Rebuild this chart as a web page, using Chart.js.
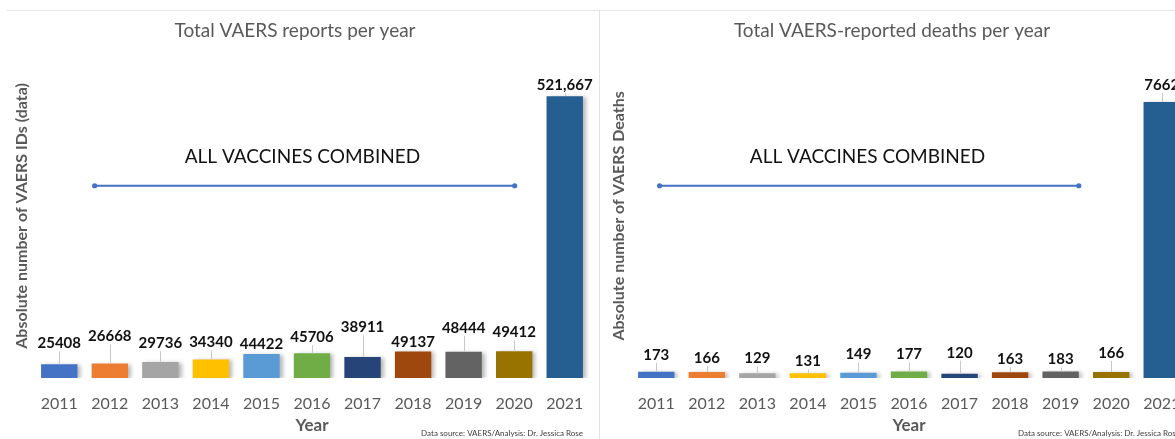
<!DOCTYPE html>
<html lang="en">
<head>
<meta charset="UTF-8" />
<title>VAERS reports and deaths per year</title>
<script src="https://cdn.jsdelivr.net/npm/chart.js"></script>
<style>
  body { margin: 0; background: #fff; overflow: hidden; }
  #wrap { position: relative; width: 1175px; height: 439px; overflow: hidden; }
  .topline { position: absolute; left: 7px; right: 0; top: 10px; height: 1px; background: #e6e6e6; }
  .divider { position: absolute; left: 599px; top: 10px; bottom: 0; width: 1px; background: #e2e2e2; }
  .panel { position: absolute; top: 0; width: 600px; height: 439px; }
</style>
</head>
<body>
<div id="wrap">
  <div class="topline"></div>
  <div class="divider"></div>
  <div class="panel" style="left:0"><canvas id="reportsChart" width="600" height="439"></canvas></div>
  <div class="panel" style="left:597px"><canvas id="deathsChart" width="600" height="439"></canvas></div>
</div>
<script>
// data
const years = ["2011", "2012", "2013", "2014", "2015", "2016", "2017", "2018", "2019", "2020", "2021"];
const reports = [25408, 26668, 29736, 34340, 44422, 45706, 38911, 49137, 48444, 49412, 521667];
const deaths = [173, 166, 129, 131, 149, 177, 120, 163, 183, 166, 7662];

// office default palette, one colour per year
const barColors = ["#4472C4", "#ED7D31", "#A5A5A5", "#FFC000", "#5B9BD5", "#70AD47",
                   "#264478", "#9E480E", "#636363", "#997300", "#255E91"];

const FONT = "Lato, 'Open Sans', sans-serif";
const sourceText = "Data source: VAERS/Analysis: Dr. Jessica Rose";

function fmt(v) {
  return v >= 100000 ? v.toLocaleString("en-US") : String(v);
}

// value labels with leader lines, the "all vaccines" note, the source line and bar shadows
const extras = {
  id: "extras",
  beforeDatasetsDraw(chart) {
    const ctx = chart.ctx;
    ctx.save();
    ctx.shadowColor = "rgba(0,0,0,0.28)";
    ctx.shadowBlur = 4;
    ctx.shadowOffsetX = 3;
    ctx.shadowOffsetY = 1;
  },
  afterDatasetsDraw(chart, args, opts) {
    const ctx = chart.ctx;
    ctx.restore();
    const meta = chart.getDatasetMeta(0);
    const values = chart.data.datasets[0].data;
    const area = chart.chartArea;
    ctx.save();
    meta.data.forEach((bar, i) => {
      const cy = bar.y - opts.lift[i];
      if (bar.y - (cy + 8) > 2) {
        ctx.strokeStyle = "#c8c8c8";
        ctx.lineWidth = 1;
        ctx.beginPath();
        ctx.moveTo(Math.round(bar.x) + 0.5, cy + 8);
        ctx.lineTo(Math.round(bar.x) + 0.5, bar.y);
        ctx.stroke();
      }
      ctx.font = "bold 15px " + FONT;
      ctx.fillStyle = "#111";
      ctx.textAlign = "center";
      ctx.textBaseline = "middle";
      ctx.fillText(fmt(values[i]), bar.x, cy);
    });

    // note in category units (x) and chart-area fractions (y)
    const xs = chart.scales.x;
    const x0 = xs.getPixelForValue(0);
    const step = xs.getPixelForValue(1) - x0;
    const px = idx => x0 + idx * step;
    const py = f => area.top + f * (area.bottom - area.top);
    const n = opts.note;
    ctx.font = "19px " + FONT;
    ctx.fillStyle = "#111";
    ctx.fillText("ALL VACCINES COMBINED", px(n.textX), py(n.textY));
    ctx.strokeStyle = "#4472C4";
    ctx.fillStyle = "#4472C4";
    ctx.lineWidth = 2;
    ctx.beginPath();
    ctx.moveTo(px(n.x0), py(n.lineY));
    ctx.lineTo(px(n.x1), py(n.lineY));
    ctx.stroke();
    [n.x0, n.x1].forEach(x => {
      ctx.beginPath();
      ctx.arc(px(x), py(n.lineY), 2.6, 0, Math.PI * 2);
      ctx.fill();
    });

    ctx.font = "8px " + FONT;
    ctx.fillStyle = "#404040";
    ctx.textAlign = "right";
    ctx.fillText(sourceText, area.right - 7, area.bottom + 55);
    ctx.restore();
  }
};

function makeChart(id, values, title, yTitle, yMax, lift, note) {
  return new Chart(document.getElementById(id), {
    type: "bar",
    data: {
      labels: years,
      datasets: [{ data: values, backgroundColor: barColors, borderWidth: 0 }]
    },
    options: {
      responsive: false,
      animation: false,
      layout: { padding: { top: 0, right: 10, bottom: 0, left: 0 } },
      plugins: {
        legend: { display: false },
        tooltip: { enabled: false },
        title: {
          display: true,
          text: title,
          color: "#595959",
          font: { family: FONT, size: 19, weight: "normal" },
          padding: { top: 19, bottom: 12 }
        },
        extras: { lift: lift, note: note }
      },
      scales: {
        x: {
          grid: { display: false },
          border: { display: false },
          ticks: { color: "#595959", font: { family: FONT, size: 16 }, padding: 8 },
          title: {
            display: true,
            text: "Year",
            color: "#595959",
            font: { family: FONT, size: 17, weight: "bold" },
            padding: { top: 4, bottom: 3 }
          },
          afterFit: s => { s.height = 61; }
        },
        y: {
          min: 0,
          max: yMax,
          grid: { display: false },
          border: { display: false },
          ticks: { display: false },
          title: {
            display: true,
            text: yTitle,
            color: "#595959",
            font: { family: FONT, size: 16, weight: "bold" },
            padding: { top: 12, bottom: 0 }
          },
          afterFit: s => { s.width = 34; }
        }
      }
    },
    plugins: [extras]
  });
}

makeChart("reportsChart", reports, "Total VAERS reports per year",
  "Absolute number of VAERS IDs (data)", 600000,
  [21, 27, 19, 17, 10, 16, 30, 9, 24, 19, 11],
  { textX: 4.81, textY: 0.318, x0: 0.70, x1: 9.01, lineY: 0.407 });

makeChart("deathsChart", deaths, "Total VAERS-reported deaths per year",
  "Absolute number of VAERS Deaths", 9000,
  [17, 14, 15, 12, 18, 17, 21, 13, 12, 19, 17],
  { textX: 4.18, textY: 0.318, x0: 0.065, x1: 8.36, lineY: 0.407 });
</script>
</body>
</html>
